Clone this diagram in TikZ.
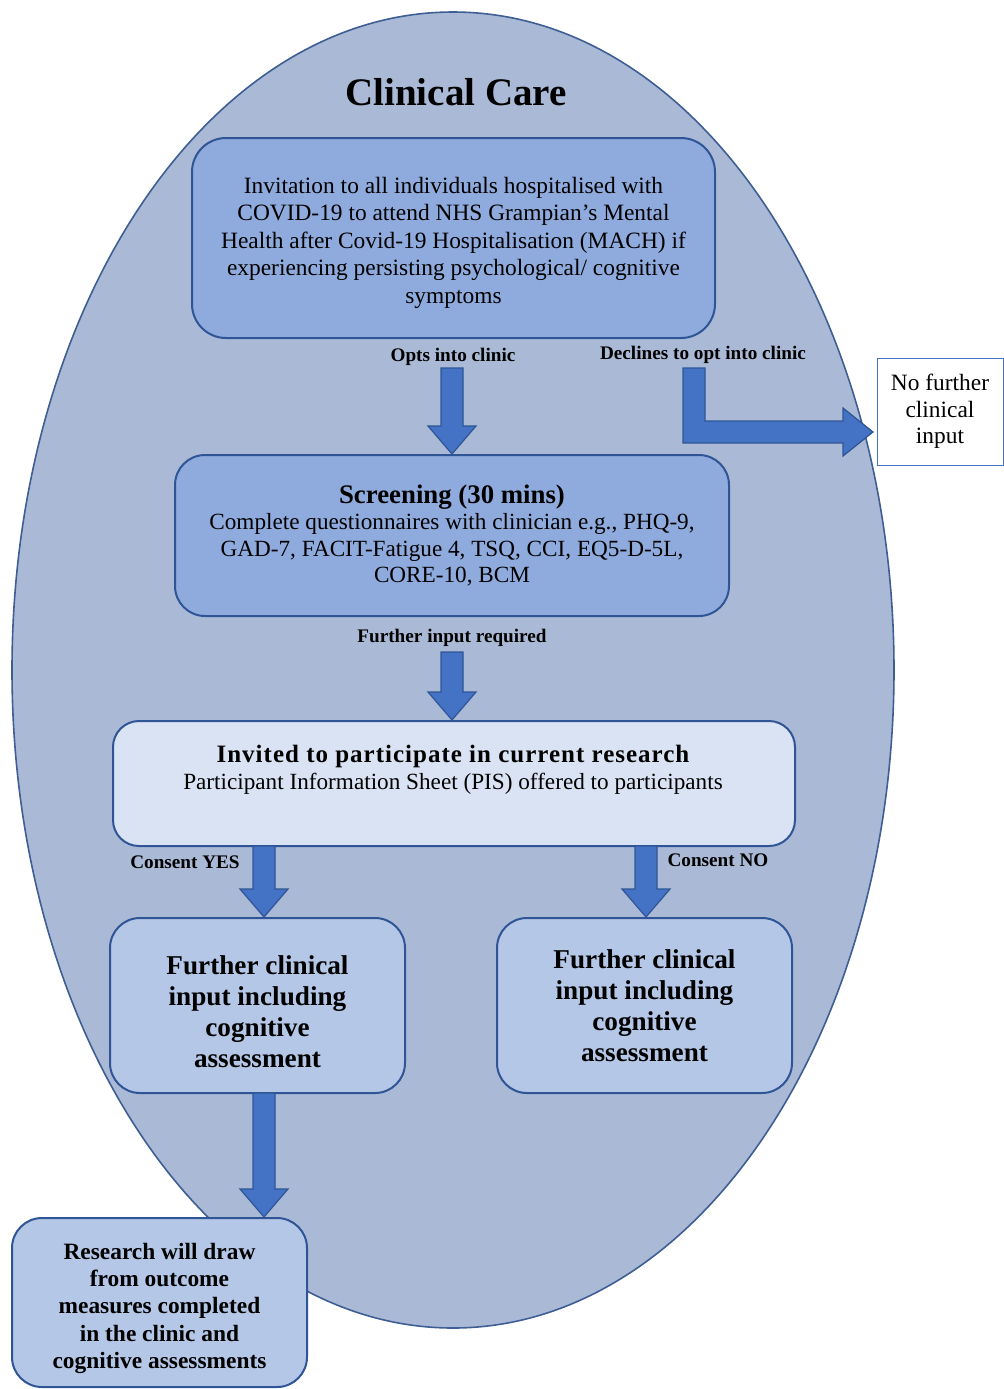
\documentclass[tikz,border=0pt]{standalone}
\usepackage{fontspec}
\setmainfont{Liberation Serif}
\usetikzlibrary{calc}

\definecolor{ovalfill}{RGB}{170,186,214}
\definecolor{ovalline}{RGB}{62,94,148}
\definecolor{darkbox}{RGB}{143,170,220}
\definecolor{lightbox}{RGB}{218,227,243}
\definecolor{midbox}{RGB}{180,199,231}
\definecolor{boxline}{RGB}{47,85,151}
\definecolor{arrowfill}{RGB}{68,114,196}

\tikzset{
  stagebox/.style={draw=boxline, line width=1pt, rounded corners=15pt,
                   inner sep=0pt, align=center},
  blockarrow/.style={fill=arrowfill, draw=boxline, line width=0.6pt},
  flowlabel/.style={font=\fontsize{9.6}{11}\selectfont\bfseries},
}

% block arrow pointing down, from #1 to the top of #2
\newcommand{\blkdown}[2]{%
  \draw[blockarrow] let \p1=(#1), \p2=(#2) in
    (\x1-5.5pt,\y1) -- (\x1+5.5pt,\y1) -- (\x1+5.5pt,\y2+14pt)
    -- (\x1+12pt,\y2+14pt) -- (\x1,\y2) -- (\x1-12pt,\y2+14pt)
    -- (\x1-5.5pt,\y2+14pt) -- cycle;}

\begin{document}
\begin{tikzpicture}[x=0.5pt, y=-0.5pt]
  \useasboundingbox (0,0) rectangle (1004,1389);

  % clinical care oval
  \draw[fill=ovalfill, draw=ovalline, line width=0.8pt]
        (453,670) ellipse [x radius=220.5pt, y radius=329pt];
  \node[font=\fontsize{19.5}{22}\selectfont\bfseries] (title) at (456,92) {Clinical Care};

  % stages
  \node[stagebox, fill=darkbox, minimum width=261.5pt, minimum height=100pt,
        rounded corners=17pt, font=\fontsize{11.7}{13.75}\selectfont] (invite) at (453.5,238)
        {\rule{0pt}{13pt}Invitation to all individuals hospitalised with\\
         COVID-19 to attend NHS Grampian’s Mental\\
         Health after Covid-19 Hospitalisation (MACH) if\\
         experiencing persisting psychological/ cognitive\\
         symptoms};
  \node[stagebox, fill=darkbox, minimum width=277pt, minimum height=80.5pt,
        font=\fontsize{11.6}{13.25}\selectfont] (screen) at (452,535.5)
        {{\fontsize{13.4}{15}\selectfont\bfseries Screening (30 mins)}\\
         Complete questionnaires with clinician e.g., PHQ-9,\\
         GAD-7, FACIT-Fatigue 4, TSQ, CCI, EQ5-D-5L,\\
         CORE-10, BCM};
  \node[stagebox, fill=lightbox, minimum width=341pt, minimum height=62.5pt,
        rounded corners=13pt] (invited) at (454,783.5) {};
  \node[align=center, font=\fontsize{11.6}{13.5}\selectfont] (invitedtxt) at (453,770)
        {{\fontsize{12.5}{13}\selectfont\bfseries\addfontfeatures{LetterSpace=4}%
          Invited to participate in current research}\\
         Participant Information Sheet (PIS) offered to participants};
  \node[stagebox, fill=midbox, minimum width=147.5pt, minimum height=87.5pt,
        font=\fontsize{13.6}{15.5}\selectfont\bfseries] (furtherL) at (257.5,1005.5)
        {\rule{0pt}{16pt}Further clinical\\ input including\\ cognitive\\ assessment};
  \node[stagebox, fill=midbox, minimum width=147.5pt, minimum height=87.5pt,
        font=\fontsize{13.6}{15.5}\selectfont\bfseries] (furtherR) at (644.5,1005.5)
        {Further clinical\\ input including\\ cognitive\\ assessment};
  \node[stagebox, fill=midbox, minimum width=147.5pt, minimum height=84.5pt,
        font=\fontsize{11.7}{13.6}\selectfont\bfseries] (research) at (159.5,1302.5)
        {\rule{0pt}{14pt}Research will draw\\ from outcome\\ measures completed\\ in the clinic and\\ cognitive assessments};
  \node[draw=arrowfill, fill=white, line width=0.5pt, inner sep=0pt, align=center,
        minimum width=63pt, minimum height=53.5pt,
        font=\fontsize{11.7}{13.25}\selectfont] (nofurther) at (940,411.5)
        {No further\\ clinical\\ input};

  % labels
  \node[flowlabel] (optlbl) at (453,357) {Opts into clinic};
  \node[flowlabel] (decllbl) at (703,355) {Declines to opt into clinic};
  \node[flowlabel] (inputlbl) at (452,638) {Further input required};
  \node[flowlabel] (yeslbl) at (185,862) {Consent YES};
  \node[flowlabel] (nolbl) at (718,860) {Consent NO};

  % arrows
  \coordinate (optstart) at (452,368);
  \coordinate (inputstart) at (452,652);
  \coordinate (yesstart) at (264,846);
  \coordinate (nostart) at (646,846);
  \coordinate (drawstart) at (264,1093);
  \blkdown{optstart}{screen.north}
  \blkdown{inputstart}{invited.north}
  \blkdown{yesstart}{furtherL.north}
  \blkdown{nostart}{furtherR.north}
  \blkdown{drawstart}{research.north}

  \coordinate (declstart) at (694,368);
  \coordinate (declend) at (873,432);
  \draw[blockarrow] let \p1=(declstart), \p2=(declend) in
    (\x1-5.5pt,\y1) -- (\x1+5.5pt,\y1) -- (\x1+5.5pt,\y2+5.5pt)
    -- (\x2-15pt,\y2+5.5pt) -- (\x2-15pt,\y2+12pt) -- (\x2,\y2)
    -- (\x2-15pt,\y2-12pt) -- (\x2-15pt,\y2-5.5pt) -- (\x1-5.5pt,\y2-5.5pt) -- cycle;
\end{tikzpicture}
\end{document}
